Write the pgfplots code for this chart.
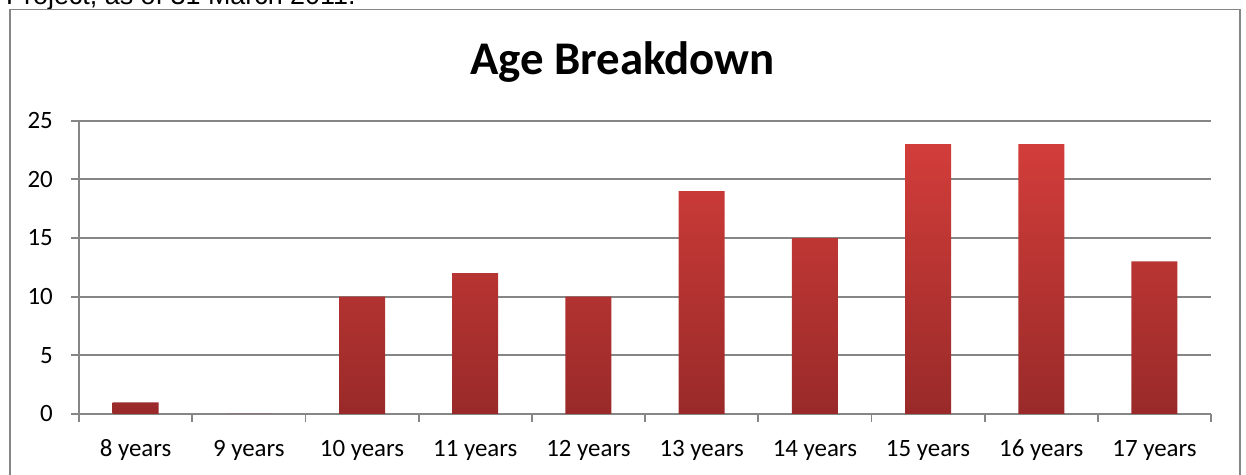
\documentclass[border=0pt]{standalone}
\usepackage{pgfplots}
\pgfplotsset{compat=1.18}
\usepackage{fontspec}
\setmainfont{Carlito}
\newfontfamily\arialfont{Liberation Sans}

\definecolor{gridgray}{HTML}{868686}
\definecolor{bartop}{HTML}{D23D3A}
\definecolor{barbot}{HTML}{992A29}

\begin{document}
\begin{tikzpicture}[x=1bp,y=1bp]
\clip (0,0) rectangle (1246,475);
% caption line of the surrounding text
\node[anchor=base west, inner sep=0, font=\arialfont\fontsize{27}{32}\selectfont] at (6,470) {Project, as of 31 March 2011.};
% chart frame
\draw[gridgray, line width=1.6bp] (10,-10) rectangle (1240,465.5);
\node[anchor=base, inner sep=0, font=\bfseries\fontsize{47}{56}\selectfont] at (622.5,400) {Age Breakdown};
\begin{axis}[
  at={(79bp,61bp)}, anchor=south west,
  scale only axis, width=1132bp, height=293.3bp,
  xmin=-0.5, xmax=9.5, ymin=0, ymax=25,
  axis x line=bottom, axis y line=left,
  axis line style={gridgray, line width=1.8bp, -},
  ytick={0,5,...,25},
  ymajorgrids, grid style={gridgray, line width=1.8bp},
  xtick={0,...,9},
  xticklabels={8 years,9 years,10 years,11 years,12 years,13 years,14 years,15 years,16 years,17 years},
  minor xtick={-0.5,0.5,...,9.5},
  tick style={gridgray, line width=1.8bp},
  major x tick style={draw=none},
  tick align=outside, major tick length=8bp, minor tick length=8bp,
  /pgf/number format/assume math mode=true,
  xticklabel style={font=\fontsize{25}{30}\selectfont, inner sep=0pt, anchor=base, yshift=-35bp},
  yticklabel style={font=\fontsize{25}{30}\selectfont, inner sep=0pt, anchor=east, xshift=-18bp},
]
\addplot[ybar, bar width=46bp, draw=none, top color=bartop, bottom color=barbot]
  coordinates {(0,1) (1,0) (2,10) (3,12) (4,10) (5,19) (6,15) (7,23) (8,23) (9,13)};
\end{axis}
\end{tikzpicture}
\end{document}
